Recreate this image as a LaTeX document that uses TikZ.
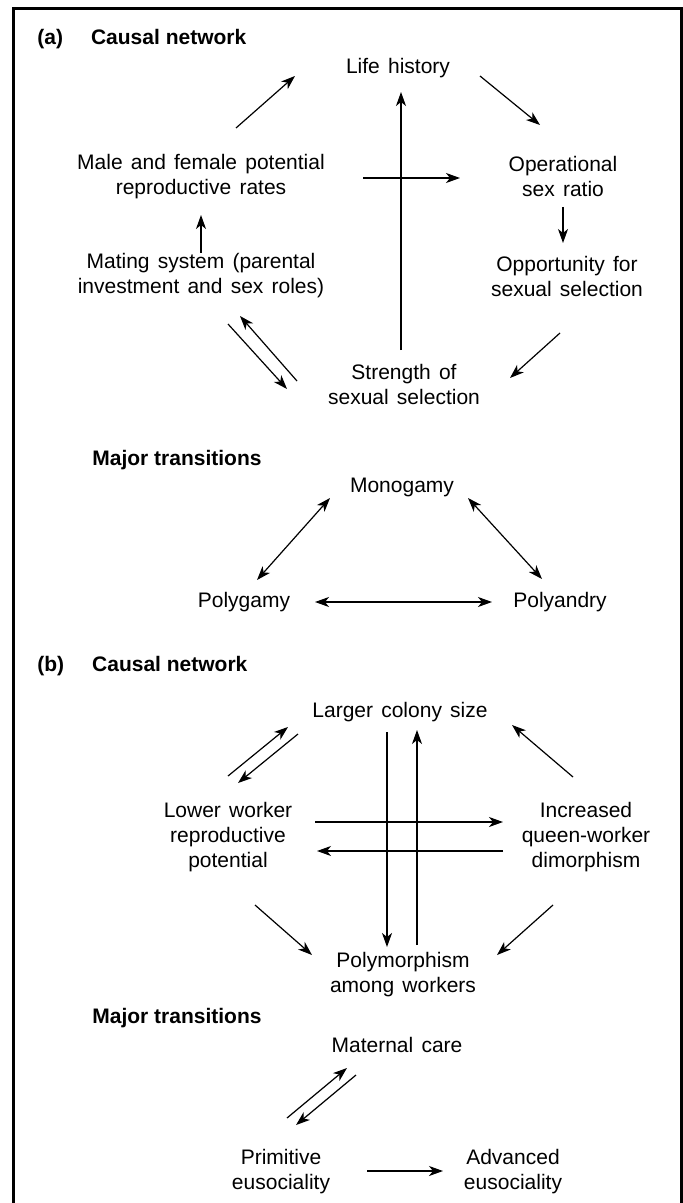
\documentclass[tikz,border=0pt]{standalone}
\usepackage{fontspec}
\setmainfont{Liberation Sans}
\usepackage{tikz}
\usetikzlibrary{arrows.meta}

\newcommand{\labfont}{\fontsize{10.5}{12.5}\selectfont\spaceskip=4.1pt\relax}

\tikzset{
  lab/.style={align=center,inner sep=0pt,font=\labfont},
  head/.style={anchor=west,inner sep=0pt,font=\fontsize{10.5}{12.5}\selectfont\bfseries},
  arr/.style={line width=0.6pt,-{Stealth[length=7pt,width=5pt,inset=2pt]}},
  arrboth/.style={line width=0.6pt,{Stealth[length=7pt,width=5pt,inset=2pt]}-{Stealth[length=7pt,width=5pt,inset=2pt]}}
}

\begin{document}
\begin{tikzpicture}[x=0.5pt,y=-0.5pt]
\useasboundingbox (0,0) rectangle (683,1203);
\draw[line width=1.5pt] (13.5,1215) -- (13.5,8.5) -- (681,8.5) -- (681,1215);

% (a) causal network
\node[head] (ta) at (37,39) {(a)\hspace{14pt}Causal network};
\node[lab] (life) at (398,68) {Life history};
\node[lab] (male) at (201,177) {Male and female potential\\reproductive rates};
\node[lab] (oper) at (563,176) {Operational\\sex ratio};
\node[lab] (mating) at (201,276) {Mating system (parental\\investment and sex roles)};
\node[lab] (oppo) at (567,276) {Opportunity for\\sexual selection};
\node[lab] (strength) at (404,384) {Strength of\\sexual selection};

\draw[arr] ([shift={(35,-49)}]male.center) -- ([shift={(-103,8)}]life.center);
\draw[arr] ([shift={(82,8)}]life.center) -- ([shift={(-23,-51)}]oper.center);
\draw[arr] ([shift={(0,31)}]oper.center) -- ([shift={(-4,-33)}]oppo.center);
\draw[arr] ([shift={(-7,57)}]oppo.center) -- ([shift={(106,-6)}]strength.center);
\draw[arr] ([shift={(-3,-34)}]strength.center) -- ([shift={(3,24)}]life.center);
\draw[arr] ([shift={(162,1)}]male.center) -- ([shift={(-103,2)}]oper.center);
\draw[arr] ([shift={(0,-23)}]mating.center) -- ([shift={(0,38)}]male.center);
\draw[arr] ([shift={(-107,-3)}]strength.center) -- ([shift={(39,40)}]mating.center);
\draw[arr] ([shift={(27,48)}]mating.center) -- ([shift={(-117,5)}]strength.center);

% (a) major transitions
\node[head] (ma) at (92,460) {Major transitions};
\node[lab] (mono) at (402,487) {Monogamy};
\node[lab] (polyg) at (244,602) {Polygamy};
\node[lab] (polya) at (560,602) {Polyandry};

\draw[arrboth] ([shift={(13,-22)}]polyg.center) -- ([shift={(-72,11)}]mono.center);
\draw[arrboth] ([shift={(66,11)}]mono.center) -- ([shift={(-18,-23)}]polya.center);
\draw[arrboth] ([shift={(71,0)}]polyg.center) -- ([shift={(-68,0)}]polya.center);

% (b) causal network
\node[head] (tb) at (37,666) {(b)\hspace{14pt}Causal network};
\node[lab] (larger) at (400,712) {Larger colony size};
\node[lab] (lower) at (228,837) {Lower worker\\reproductive\\potential};
\node[lab] (incr) at (586,837) {Increased\\queen-worker\\dimorphism};
\node[lab] (poly) at (403,975) {Polymorphism\\among workers};

\draw[arr] ([shift={(0,-61)}]lower.center) -- ([shift={(-112,15)}]larger.center);
\draw[arr] ([shift={(-102,22)}]larger.center) -- ([shift={(10,-54)}]lower.center);
\draw[arr] ([shift={(-13,-60)}]incr.center) -- ([shift={(112,13)}]larger.center);
\draw[arr] ([shift={(-13,20)}]larger.center) -- ([shift={(-16,-28)}]poly.center);
\draw[arr] ([shift={(14,-30)}]poly.center) -- ([shift={(17,18)}]larger.center);
\draw[arr] ([shift={(87,-15)}]lower.center) -- ([shift={(-83,-15)}]incr.center);
\draw[arr] ([shift={(-83,14)}]incr.center) -- ([shift={(89,14)}]lower.center);
\draw[arr] ([shift={(27,68)}]lower.center) -- ([shift={(-91,-20)}]poly.center);
\draw[arr] ([shift={(-33,68)}]incr.center) -- ([shift={(94,-20)}]poly.center);

% (b) major transitions
\node[head] (mb) at (92,1018) {Major transitions};
\node[lab] (maternal) at (397,1045) {Maternal care};
\node[lab] (prim) at (281,1172) {Primitive\\eusociality};
\node[lab] (adv) at (513,1172) {Advanced\\eusociality};

\draw[arr] ([shift={(6,-54)}]prim.center) -- ([shift={(-50,23)}]maternal.center);
\draw[arr] ([shift={(-41,30)}]maternal.center) -- ([shift={(15,-47)}]prim.center);
\draw[arr] ([shift={(86,-1)}]prim.center) -- ([shift={(-70,-1)}]adv.center);
\end{tikzpicture}
\end{document}
